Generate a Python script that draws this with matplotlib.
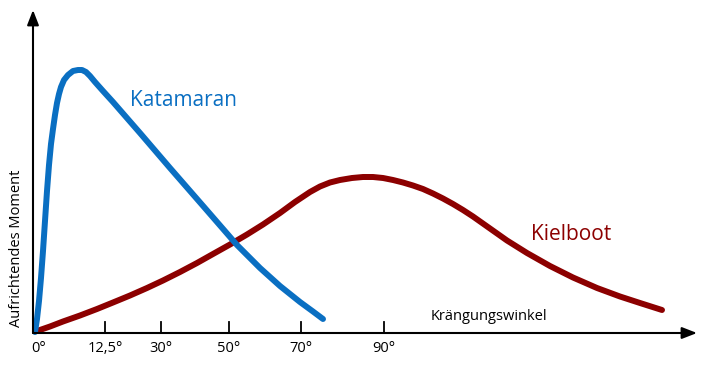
import matplotlib.pyplot as plt

plt.rcParams['font.family'] = ['Open Sans', 'DejaVu Sans']

# Kurven (Position entlang der Achsen, vom Ursprung aus gemessen)
kat_x = [2, 4, 6, 8, 10, 12, 14, 16, 18, 20, 22, 24, 26, 28, 31, 35, 40, 45, 49, 53, 57,
         62, 70, 80, 107, 137, 171, 204, 227, 247, 267, 280, 290]
kat_y = [1, 14, 32, 55, 82, 112, 142, 168, 189, 204, 218, 230, 239, 246, 253, 258, 262, 263, 263, 261, 257,
         251, 242, 231, 200, 165, 126, 88, 65, 47, 31, 21.5, 14]

kiel_x = [4, 17, 30, 47, 64, 80, 97, 114, 130, 147, 164, 180, 197, 214, 230, 247, 262, 277,
          287, 297, 307, 319, 330, 340, 350, 360, 370, 380, 390, 400, 410, 420, 430, 440,
          457, 474, 494, 517, 540, 564, 587, 607, 629]
kiel_y = [2, 6.5, 11.5, 17.5, 24, 30.5, 37.5, 45, 52.5, 61, 70, 79, 88.5, 98.5, 108.5, 120, 131, 141,
          146.5, 150.5, 153, 155, 156, 156, 155, 153, 150.5, 147.5, 144, 139.5, 134.5, 129, 123, 116.5,
          104.5, 92.5, 80, 67, 55.5, 45, 36.5, 30, 23]

tick_pos = [72, 128, 196, 268, 351]
tick_labels = ['12,5°', '30°', '50°', '70°', '90°']

blue = '#0A6FC2'
red = '#8C0000'

fig = plt.figure(figsize=(7.12, 3.68), dpi=100)
ax = fig.add_axes([0, 0, 1, 1])
ax.set_xlim(-33, 679)
ax.set_ylim(-35, 333)
ax.axis('off')

# Achsen mit Pfeilen
ax.annotate('', xy=(664, 0), xytext=(0, 0),
            arrowprops=dict(arrowstyle='-|>,head_length=0.9,head_width=0.35', lw=1.5, color='black',
                            shrinkA=0, shrinkB=0))
ax.annotate('', xy=(0, 323), xytext=(0, 0),
            arrowprops=dict(arrowstyle='-|>,head_length=0.9,head_width=0.35', lw=1.5, color='black',
                            shrinkA=0, shrinkB=0))

for p in tick_pos:
    ax.plot([p, p], [0, 11], color='black', lw=1.3)
for p, lab in zip(tick_pos, tick_labels):
    ax.text(p, -8, lab, ha='center', va='top', fontsize=10.5)
ax.text(6, -8, '0°', ha='center', va='top', fontsize=10.5)

ax.plot(kiel_x, kiel_y, color=red, lw=4.3, solid_capstyle='round', solid_joinstyle='round')
ax.plot(kat_x, kat_y, color=blue, lw=4.3, solid_capstyle='round', solid_joinstyle='round')

ax.text(97, 233, 'Katamaran', color=blue, fontsize=15, va='center', ha='left')
ax.text(498, 99, 'Kielboot', color=red, fontsize=15, va='center', ha='left')
ax.text(456, 16, 'Krängungswinkel', fontsize=10.5, va='center', ha='center')
ax.text(-16, 85, 'Aufrichtendes Moment', fontsize=10.5, rotation=90, va='center', ha='center')

fig.savefig('out.png', dpi=100)
